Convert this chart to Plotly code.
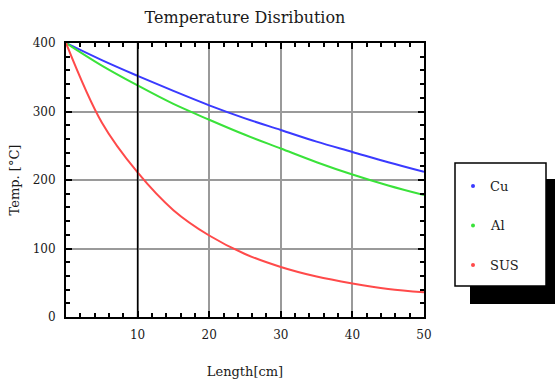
import plotly.graph_objects as go

# Rod length positions (cm) and temperatures (°C) for each material
length_cm = [0, 5, 10, 15, 20, 25, 30, 35, 40, 45, 50]
temp_cu = [400, 375, 352, 330, 309, 290, 273, 256, 241, 226, 212]
temp_al = [400, 367, 338, 311, 288, 266, 246, 226, 208, 192, 178]
temp_sus = [400, 284, 211, 156, 119, 92, 73, 59, 49, 41, 36]

series_names = ["Cu", "Al", "SUS"]
series_values = [temp_cu, temp_al, temp_sus]
series_colors = ["#3a3aff", "#3ae23a", "#ff4a4a"]

x_ticks = [10, 20, 30, 40, 50]
y_ticks = [0, 100, 200, 300, 400]
highlight_x = 10

FONT = "DejaVu Serif"
W, H = 555, 385
L, R, T, B = 66, 131, 43, 68


def px_x(p):
    return (p - L) / (W - L - R)


def px_y(p):
    return (H - B - p) / (H - T - B)


fig = go.Figure()
for name, vals, col in zip(series_names, series_values, series_colors):
    fig.add_trace(go.Scatter(
        x=length_cm, y=vals, mode="lines", name=name,
        line=dict(color=col, width=2, shape="spline", smoothing=1.0),
        showlegend=False,
    ))

axis_common = dict(
    showline=True, linecolor="black", linewidth=2, mirror="allticks",
    ticks="inside", ticklen=6, tickcolor="black", tickwidth=1.5,
    showgrid=True, gridcolor="#9a9a9a", gridwidth=1.5,
    zeroline=False, automargin=False,
    tickfont=dict(family=FONT, size=12, color="#1a1a1a"),
)

fig.update_xaxes(
    range=[0, 50], tickvals=x_ticks, ticktext=[str(v) for v in x_ticks],
    minor=dict(dtick=2, ticks="inside", ticklen=4, tickcolor="black", showgrid=False),
    title=dict(text="Length[cm]", font=dict(family=FONT, size=13, color="#1a1a1a"), standoff=25),
    ticklabelstandoff=6,
    **axis_common,
)
fig.update_yaxes(
    range=[0, 400], tickvals=y_ticks, ticktext=[str(v) for v in y_ticks],
    minor=dict(dtick=20, ticks="inside", ticklen=4, tickcolor="black", showgrid=False),
    title=dict(text="Temp. [°C]", font=dict(family=FONT, size=13, color="#1a1a1a"), standoff=10),
    ticklabelstandoff=6,
    **axis_common,
)

shapes = [
    # darker reference line at 10 cm
    dict(type="line", xref="x", yref="paper", x0=highlight_x, x1=highlight_x, y0=0, y1=1,
         line=dict(color="black", width=1.5), layer="above"),
    # legend shadow and box
    dict(type="rect", xref="paper", yref="paper",
         x0=px_x(470), x1=px_x(556), y0=px_y(304), y1=px_y(179),
         fillcolor="black", line=dict(width=0)),
    dict(type="rect", xref="paper", yref="paper",
         x0=px_x(455), x1=px_x(546), y0=px_y(286), y1=px_y(163),
         fillcolor="white", line=dict(color="black", width=1.5)),
]

annotations = []
for i, (name, col) in enumerate(zip(series_names, series_colors)):
    ypx = 186 + 39.5 * i
    shapes.append(dict(
        type="circle", xref="paper", yref="paper", xsizemode="pixel", ysizemode="pixel",
        xanchor=px_x(473), yanchor=px_y(ypx), x0=-2, x1=2, y0=-2, y1=2,
        fillcolor=col, line=dict(width=0),
    ))
    annotations.append(dict(
        xref="paper", yref="paper", x=px_x(488), y=px_y(ypx), text=name,
        showarrow=False, xanchor="left", yanchor="middle",
        font=dict(family=FONT, size=13, color="#1a1a1a"),
    ))

fig.update_layout(
    width=W, height=H,
    margin=dict(l=L, r=R, t=T, b=B, autoexpand=False),
    paper_bgcolor="white", plot_bgcolor="white",
    title=dict(text="Temperature Disribution", xref="paper", x=0.5, xanchor="center",
               yref="container", y=1 - 17 / H, yanchor="middle",
               font=dict(family=FONT, size=16, color="#1a1a1a")),
    shapes=shapes, annotations=annotations,
    showlegend=False,
)

fig.write_html("out.html")
